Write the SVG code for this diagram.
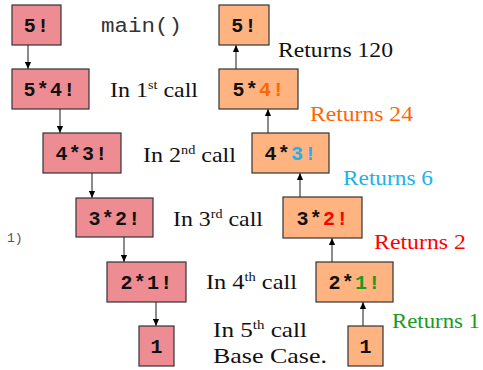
<svg xmlns="http://www.w3.org/2000/svg" width="483" height="370" viewBox="0 0 483 370">
  <defs>
    <marker id="head" viewBox="0 0 8 8" refX="8" refY="4" markerWidth="7" markerHeight="7" markerUnits="userSpaceOnUse" orient="auto">
      <path d="M0,0.5 L8,4 L0,7.5 Z" fill="#000"/>
    </marker>
    <style>
      .call { fill: #ED8D93; stroke: #333; stroke-width: 1.2; }
      .ret { fill: #FFB380; stroke: #333; stroke-width: 1.2; }
      .code { font-family: "Liberation Mono", "Courier New", monospace; font-weight: bold; font-size: 20px; letter-spacing: 1.2px; fill: #111; text-anchor: middle; }
      .lbl { font-family: "Liberation Serif", "Times New Roman", "DejaVu Serif", serif; font-size: 22px; fill: #111; }
      .mono { font-family: "Liberation Mono", "Courier New", monospace; }
      .sup { font-size: 13px; }
      .link { stroke: #6E6E6E; stroke-width: 1.6; fill: none; marker-end: url(#head); }
      .orange { fill: #FF6600; }
      .blue { fill: #22B0E8; }
      .red { fill: #FF0000; }
      .green { fill: #1A9A1A; }
    </style>
  </defs>
  <rect width="483" height="370" fill="#fff"/>

  <!-- connectors -->
  <g id="connectors">
    <line class="link" x1="28" y1="45" x2="28" y2="69"/>
    <line class="link" x1="60" y1="109" x2="60" y2="133"/>
    <line class="link" x1="92" y1="173" x2="92" y2="198"/>
    <line class="link" x1="124" y1="237" x2="124" y2="262"/>
    <line class="link" x1="156" y1="302" x2="156" y2="326"/>
    <line class="link" x1="236" y1="69" x2="236" y2="45"/>
    <line class="link" x1="268" y1="133" x2="268" y2="109"/>
    <line class="link" x1="300" y1="197" x2="300" y2="173"/>
    <line class="link" x1="332" y1="262" x2="332" y2="238"/>
    <line class="link" x1="363" y1="326" x2="363" y2="302"/>
  </g>

  <!-- call chain (descending) -->
  <g id="call5">
    <rect class="call" x="12" y="5" width="49" height="40"/>
    <text class="code" x="37" y="32">5!</text>
  </g>
  <g id="call4">
    <rect class="call" x="12" y="69" width="77" height="40"/>
    <text class="code" x="50" y="96">5*4!</text>
  </g>
  <g id="call3">
    <rect class="call" x="43" y="133" width="78" height="40"/>
    <text class="code" x="82" y="160">4*3!</text>
  </g>
  <g id="call2">
    <rect class="call" x="76" y="198" width="77" height="39"/>
    <text class="code" x="115" y="224.5">3*2!</text>
  </g>
  <g id="call1">
    <rect class="call" x="107" y="262" width="79" height="40"/>
    <text class="code" x="147" y="289">2*1!</text>
  </g>
  <g id="call0">
    <rect class="call" x="139" y="326" width="35" height="40"/>
    <text class="code" x="157" y="353">1</text>
  </g>

  <!-- return chain (ascending) -->
  <g id="ret5">
    <rect class="ret" x="219" y="5" width="50" height="40"/>
    <text class="code" x="244.5" y="32">5!</text>
  </g>
  <g id="ret4">
    <rect class="ret" x="219" y="69" width="79" height="40"/>
    <text class="code" x="259" y="96">5*<tspan class="orange">4!</tspan></text>
  </g>
  <g id="ret3">
    <rect class="ret" x="252" y="133" width="77" height="40"/>
    <text class="code" x="291" y="160">4*<tspan class="blue">3!</tspan></text>
  </g>
  <g id="ret2">
    <rect class="ret" x="283" y="197" width="79" height="41"/>
    <text class="code" x="323" y="224.5">3*<tspan class="red">2!</tspan></text>
  </g>
  <g id="ret1">
    <rect class="ret" x="316" y="262" width="77" height="40"/>
    <text class="code" x="355" y="289">2*<tspan class="green">1!</tspan></text>
  </g>
  <g id="ret0">
    <rect class="ret" x="348" y="326" width="35" height="40"/>
    <text class="code" x="366" y="353">1</text>
  </g>

  <!-- labels -->
  <g id="labels">
    <text class="mono" x="101" y="32" font-size="20" fill="#333" textLength="81" lengthAdjust="spacingAndGlyphs">main()</text>
    <text class="mono" x="7" y="242" font-size="13" fill="#555">1)</text>

    <text class="lbl" x="110" y="97" textLength="88" lengthAdjust="spacingAndGlyphs">In 1<tspan class="sup" dy="-8">st</tspan><tspan dy="8"> call</tspan></text>
    <text class="lbl" x="143" y="162" textLength="93" lengthAdjust="spacingAndGlyphs">In 2<tspan class="sup" dy="-8">nd</tspan><tspan dy="8"> call</tspan></text>
    <text class="lbl" x="173" y="226" textLength="90" lengthAdjust="spacingAndGlyphs">In 3<tspan class="sup" dy="-8">rd</tspan><tspan dy="8"> call</tspan></text>
    <text class="lbl" x="206" y="289" textLength="91" lengthAdjust="spacingAndGlyphs">In 4<tspan class="sup" dy="-8">th</tspan><tspan dy="8"> call</tspan></text>
    <text class="lbl" x="213" y="337" textLength="94" lengthAdjust="spacingAndGlyphs">In 5<tspan class="sup" dy="-8">th</tspan><tspan dy="8"> call</tspan></text>
    <text class="lbl" x="213" y="363" textLength="114" lengthAdjust="spacingAndGlyphs">Base Case.</text>

    <text class="lbl" x="278" y="57" textLength="115" lengthAdjust="spacingAndGlyphs">Returns 120</text>
    <text class="lbl orange" x="310" y="121" textLength="103" lengthAdjust="spacingAndGlyphs">Returns 24</text>
    <text class="lbl blue" x="343" y="185" textLength="90" lengthAdjust="spacingAndGlyphs">Returns 6</text>
    <text class="lbl red" x="374" y="249" textLength="92" lengthAdjust="spacingAndGlyphs">Returns 2</text>
    <text class="lbl green" x="392" y="328" textLength="88" lengthAdjust="spacingAndGlyphs">Returns 1</text>
  </g>
</svg>
